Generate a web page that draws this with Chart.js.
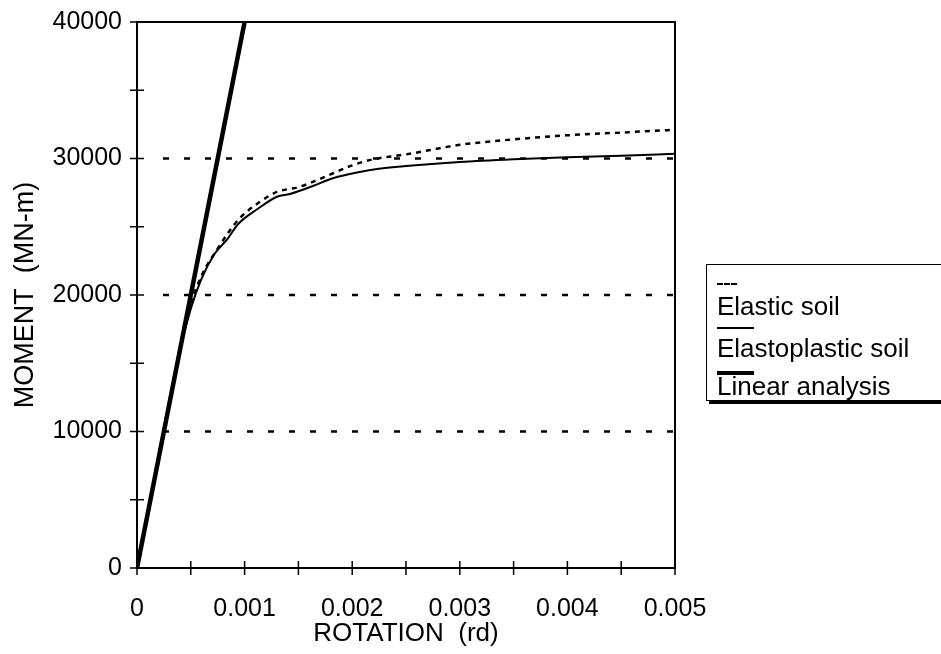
<!DOCTYPE html>
<html>
<head>
<meta charset="utf-8">
<script src="https://cdn.jsdelivr.net/npm/chart.js@4"></script>
<style>
  body { margin: 0; background: #fff; }
  #wrap { position: relative; width: 941px; height: 654px; overflow: hidden; }
  #legend {
    position: absolute; left: 706px; top: 264px; width: 250px; height: 137px;
    border: 1px solid #000; box-shadow: 3px 3px 0 #000; background: #fff;
    font-family: "Liberation Sans", Arial, sans-serif; font-size: 26px; color: #000;
    box-sizing: border-box;
  }
  .sample { position: absolute; left: 10px; height: 0; }
  .lbl { position: absolute; left: 10px; line-height: 28px; white-space: nowrap; }
</style>
</head>
<body>
<div id="wrap">
  <canvas id="chart" width="941" height="654"></canvas>
  <div id="legend"></div>
</div>
<script>
// data
const rotElastic = [0, 0.0004, 0.0005, 0.0006, 0.00075, 0.00094, 0.00112, 0.0013, 0.0015, 0.0017, 0.002, 0.0022, 0.0025, 0.003, 0.0035, 0.004, 0.0045, 0.005];
const momElastic = [0, 16000, 19300, 21400, 23400, 25500, 26700, 27550, 27900, 28500, 29500, 29950, 30300, 31000, 31400, 31700, 31900, 32100];

const rotPlastic = [0, 0.0004, 0.0005, 0.0006, 0.00072, 0.00084, 0.00094, 0.00112, 0.0013, 0.00142, 0.00164, 0.0018, 0.002, 0.0022, 0.0025, 0.003, 0.0035, 0.004, 0.0045, 0.005];
const momPlastic = [0, 16000, 19000, 21200, 23000, 24100, 25200, 26300, 27200, 27400, 28000, 28500, 28900, 29200, 29450, 29750, 29950, 30100, 30200, 30350];

const rotLinear = [0, 0.001];
const momLinear = [0, 40000];

const seriesNames = ["Elastic soil", "Elastoplastic soil", "Linear analysis"];
const xTicks = [0, 0.001, 0.002, 0.003, 0.004, 0.005];
const yTicks = [0, 10000, 20000, 30000, 40000];

const FONT = "Liberation Sans";

function pts(xs, ys) {
  return xs.map((x, i) => ({ x: x, y: ys[i] }));
}

// ticks crossing the axes, dashed grid, top and right frame
const framePlugin = {
  id: "frame",
  beforeDatasetsDraw(chart) {
    const { ctx, chartArea: a, scales: { y } } = chart;
    ctx.save();
    ctx.strokeStyle = "#000";
    ctx.lineWidth = 2.5;
    ctx.setLineDash([6, 15]);
    [10000, 20000, 30000].forEach(v => {
      const py = y.getPixelForValue(v);
      ctx.beginPath();
      ctx.moveTo(a.left + 26, py);
      ctx.lineTo(a.right, py);
      ctx.stroke();
    });
    ctx.restore();
  },
  afterDraw(chart) {
    const { ctx, chartArea: a, scales: { x, y } } = chart;
    ctx.save();
    ctx.strokeStyle = "#000";
    ctx.lineWidth = 2;
    ctx.beginPath();
    ctx.moveTo(a.left, a.top);
    ctx.lineTo(a.right, a.top);
    ctx.lineTo(a.right, a.bottom);
    ctx.stroke();
    ctx.lineWidth = 1.5;
    x.ticks.forEach(t => {
      const px = x.getPixelForValue(t.value);
      ctx.beginPath();
      ctx.moveTo(px, a.bottom - 7);
      ctx.lineTo(px, a.bottom + 7);
      ctx.stroke();
    });
    y.ticks.forEach(t => {
      const py = y.getPixelForValue(t.value);
      ctx.beginPath();
      ctx.moveTo(a.left - 7, py);
      ctx.lineTo(a.left + 7, py);
      ctx.stroke();
    });
    ctx.restore();
  }
};

const ctx = document.getElementById("chart").getContext("2d");

new Chart(ctx, {
  type: "line",
  data: {
    datasets: [
      {
        label: seriesNames[0],
        data: pts(rotElastic, momElastic),
        borderColor: "#000",
        borderWidth: 2.5,
        borderDash: [5, 5],
        pointRadius: 0,
        cubicInterpolationMode: "monotone"
      },
      {
        label: seriesNames[1],
        data: pts(rotPlastic, momPlastic),
        borderColor: "#000",
        borderWidth: 2,
        pointRadius: 0,
        cubicInterpolationMode: "monotone"
      },
      {
        label: seriesNames[2],
        data: pts(rotLinear, momLinear),
        borderColor: "#000",
        borderWidth: 4.5,
        pointRadius: 0
      }
    ]
  },
  options: {
    responsive: false,
    animation: false,
    layout: { padding: { top: 20, right: 266, left: 0, bottom: 0 } },
    plugins: { legend: { display: false }, tooltip: { enabled: false } },
    scales: {
      x: {
        type: "linear",
        min: 0,
        max: 0.005,
        afterFit: s => { s.height = 86; },
        afterBuildTicks: s => {
          s.ticks = [];
          for (let i = 0; i <= 10; i++) s.ticks.push({ value: i * 0.0005 });
        },
        grid: { display: false },
        border: { display: true, color: "#000", width: 2 },
        ticks: {
          color: "#000",
          padding: 18,
          maxRotation: 0,
          autoSkip: false,
          font: { family: FONT, size: 25 },
          callback: v => {
            const hit = xTicks.find(t => Math.abs(t - v) < 1e-9);
            return hit === undefined ? "" : String(hit);
          }
        },
        title: {
          display: true,
          text: "ROTATION  (rd)",
          color: "#000",
          font: { family: FONT, size: 26 },
          padding: { top: 0, bottom: 5 }
        }
      },
      y: {
        type: "linear",
        min: 0,
        max: 40000,
        afterFit: s => { s.width = 137; },
        afterBuildTicks: s => {
          s.ticks = [];
          for (let i = 0; i <= 8; i++) s.ticks.push({ value: i * 5000 });
        },
        grid: { display: false },
        border: { display: true, color: "#000", width: 2 },
        ticks: {
          color: "#000",
          padding: 7,
          autoSkip: false,
          font: { family: FONT, size: 25 },
          callback: v => (yTicks.includes(v) ? String(v) : "")
        },
        title: {
          display: true,
          text: "MOMENT  (MN-m)",
          color: "#000",
          font: { family: FONT, size: 27 },
          padding: { top: 9, bottom: 4 }
        }
      }
    }
  },
  plugins: [framePlugin]
});

// legend: a sample line above each name
const samples = [
  "border-top: 2.5px dashed #000; width: 20px;",
  "border-top: 2px solid #000; width: 37px;",
  "border-top: 4px solid #000; width: 37px;"
];
const sampleTop = [18, 62, 106];
const labelTop = [27, 69, 107];
const legend = document.getElementById("legend");
seriesNames.forEach((name, i) => {
  const s = document.createElement("div");
  s.className = "sample";
  s.style.cssText = samples[i] + "top:" + sampleTop[i] + "px;";
  legend.appendChild(s);
  const l = document.createElement("div");
  l.className = "lbl";
  l.style.top = labelTop[i] + "px";
  l.textContent = name;
  legend.appendChild(l);
});
</script>
</body>
</html>
